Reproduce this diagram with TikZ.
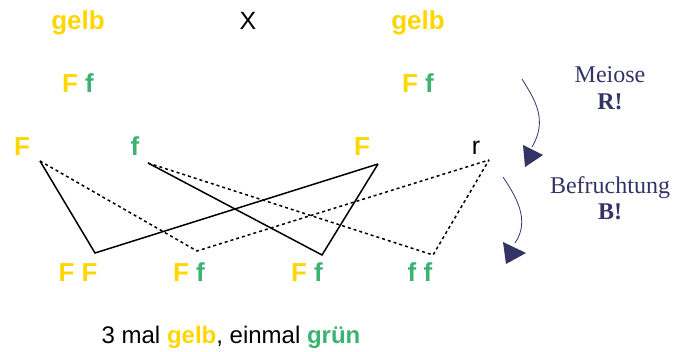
\documentclass[tikz,border=0pt]{standalone}
\usepackage{fontspec}
\setmainfont{Liberation Sans}
\newfontfamily\romanfont{Liberation Serif}
\usepackage{xcolor}
\usepackage{tikz}
\usetikzlibrary{positioning}

\definecolor{gelbton}{RGB}{255,214,0}
\definecolor{gruenton}{RGB}{60,179,113}
\definecolor{navyton}{RGB}{51,51,102}
\newcommand{\dom}{\textcolor{gelbton}{F}}
\newcommand{\rez}{\textcolor{gruenton}{f}}

\begin{document}
\begin{tikzpicture}[
  x=1pt,y=-1pt,
  allel/.style={anchor=base, inner sep=0pt, font=\fontsize{26}{30}\selectfont\bfseries},
  label/.style={anchor=base, inner sep=0pt, font=\fontsize{24}{28}\selectfont},
  note/.style={anchor=base, inner sep=0pt, text=navyton, font=\fontsize{24}{28}\selectfont\romanfont},
  erbgang/.style={line width=1.5pt},
  kreuz/.style={line width=1.5pt, dash pattern=on 3pt off 3pt},
  bogen/.style={navyton, line width=0.8pt},
  spitze/.style={fill=navyton, draw=none}
]
\useasboundingbox (0,0) rectangle (684,352);

% Eltern
\node[allel, text=gelbton] (gelbL) at (78,30) {gelb};
\node[label, font=\fontsize{25}{28}\selectfont] (kreuzung) at (248,30) {X};
\node[allel, text=gelbton] (gelbR) at (418,30) {gelb};
\node[allel] (elterL) at (78,93) {\dom\ \rez};
\node[allel] (elterR) at (418,93) {\dom\ \rez};

% Keimzellen
\node[allel, text=gelbton] (keimF1) at (22,156) {F};
\node[allel, text=gruenton] (keimf1) at (135,156) {f};
\node[allel, text=gelbton] (keimF2) at (362,156) {F};
\node[label, font=\fontsize{25}{28}\selectfont] (keimr) at (476,155) {r};

% Nachkommen
\node[allel] (kindFF) at (78,281) {\dom\ \dom};
\node[allel] (kindFf1) at (189,281) {\dom\ \rez};
\node[allel] (kindFf2) at (307,281) {\dom\ \rez};
\node[allel] (kindff) at (420,281) {\rez\ \rez};

\node[label] (ergebnis) at (231,343) {3 mal \textbf{\textcolor{gelbton}{gelb}}, einmal \textbf{\textcolor{gruenton}{grün}}};

% Erlaeuterungen
\node[note] (meiose) at (610,83) {Meiose};
\node[note, font=\fontsize{24}{28}\selectfont\romanfont\bfseries] (meioseR) at (610,110) {R!};
\node[note] (befr) at (610,194) {Befruchtung};
\node[note, font=\fontsize{24}{28}\selectfont\romanfont\bfseries] (befrB) at (610,220) {B!};

% Verbindungspunkte
\coordinate (pF1) at (40,161);
\coordinate (pf1) at (148,163);
\coordinate (pF2) at (378,164);
\coordinate (pr) at (489,160);
\coordinate (vFF) at (95,253);
\coordinate (vFf1) at (197,251);
\coordinate (vFf2) at (322,255);
\coordinate (vff) at (433,255);

\draw[erbgang] (pF1) -- (vFF) -- (pF2);
\draw[erbgang] (pf1) -- (vFf2) -- (pF2);
\draw[kreuz] (pF1) -- (vFf1) -- (pr);
\draw[kreuz] (pf1) -- (vff) -- (pr);

% Pfeile
\coordinate (m0) at (522,79);
\coordinate (m1) at (532,147);
\coordinate (b0) at (503,177);
\coordinate (b1) at (515,243);
\draw[bogen] (m0) .. controls (535,100) and (548,120) .. (m1);
\fill[spitze] (523,145) -- (543,155) -- (525,167) -- cycle;
\draw[bogen] (b0) .. controls (515,195) and (531,220) .. (b1);
\fill[spitze] (503,242) -- (526,253) -- (506,264) -- cycle;
\end{tikzpicture}
\end{document}
